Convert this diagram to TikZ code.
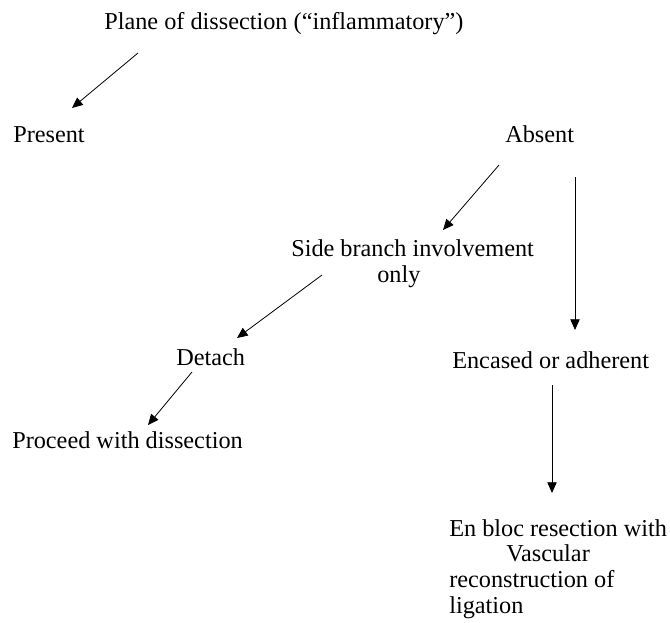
\documentclass[tikz,border=0pt]{standalone}
\usepackage{fontspec}
\setmainfont{Liberation Serif}
\usetikzlibrary{arrows.meta,calc}
\begin{document}
\begin{tikzpicture}[x=0.75pt,y=-0.75pt,
        lbl/.style={inner sep=0pt,anchor=base west,align=left,font=\fontsize{18.2}{19.2}\selectfont},
        arr/.style={line width=0.6pt,-{Triangle[length=8pt,width=7pt]}}]
                \useasboundingbox (0,0) rectangle (670,622);
                \node[lbl] (plane) at (104,29) {Plane of dissection (``inflammatory'')};
                \node[lbl] (present) at (13,142) {Present};
                \node[lbl] (absent) at (505,142) {Absent};
                \node[lbl] (side) at (291,282) {Side branch involvement\\\hspace*{64.5pt}only};
                \node[lbl] (detach) at (176,365) {Detach};
                \node[lbl] (encased) at (452,368) {Encased or adherent};
                \node[lbl] (proceed) at (12,448) {Proceed with dissection};
                \node[lbl] (enbloc) at (449,613) {En bloc resection with\\\hspace*{42.75pt}Vascular\\reconstruction of\\ligation};
                \draw[arr] ($(plane.base west)+(34,24)$) -- ($(present.base west)+(59,-34)$);
                \draw[arr] ($(absent.base west)+(-6,23)$) -- ($(side.base west)+(152,-52)$);
                \draw[arr] ($(absent.base west)+(70,35)$) -- ($(encased.base west)+(123,-38)$);
                \draw[arr] ($(side.base west)+(31,-7)$) -- ($(detach.base west)+(61,-27)$);
                \draw[arr] ($(detach.base west)+(16,7)$) -- ($(proceed.base west)+(136,-23)$);
                \draw[arr] ($(encased.base west)+(100,17)$) -- ($(enbloc.base west)+(103,-120)$);
            \end{tikzpicture}
\end{document}
